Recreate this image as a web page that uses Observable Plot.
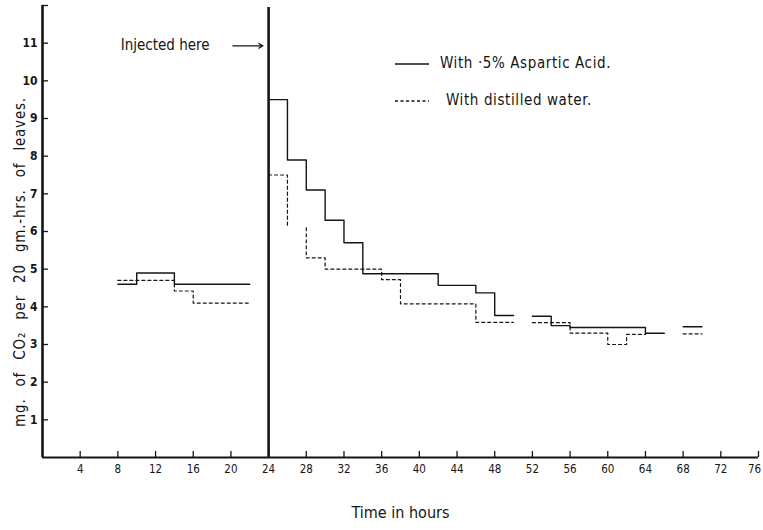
<!DOCTYPE html>
<html>
<head>
<meta charset="utf-8">
<script src="https://cdn.jsdelivr.net/npm/d3@7"></script>
<script src="https://cdn.jsdelivr.net/npm/@observablehq/plot@0.6"></script>
<style>
  html, body { margin: 0; padding: 0; background: #fff; }
  #wrap { position: relative; width: 763px; height: 530px; font-family: "DejaVu Sans Condensed", "DejaVu Sans", sans-serif; font-stretch: condensed; color: #151515; }
  #wrap > svg { display: block; }
  #wrap .legend { position: absolute; font-size: 15px; letter-spacing: 0.6px; white-space: nowrap; line-height: 18px; }
  #wrap .legend svg { display: inline-block; vertical-align: middle; }
  #wrap .ylabel { position: absolute; left: 20px; top: 262px; font-size: 15px; letter-spacing: 0.8px; word-spacing: 7px; white-space: pre; transform: translate(-50%, -50%) rotate(-90deg); }
</style>
</head>
<body>
<div id="wrap"></div>
<script>
// ---- data ----
// With 0.5% aspartic acid (solid): step breakpoints (hours) and values; seg = continuous pieces
const acidHours  = [8, 10, 14, 22,   24, 26, 28, 30, 32, 34, 42, 46, 48, 50,   52, 54, 56, 64, 66,   68, 70];
const acidValues = [4.6, 4.9, 4.6, 4.6,   9.5, 7.9, 7.1, 6.3, 5.7, 4.88, 4.57, 4.37, 3.77, 3.77,   3.75, 3.5, 3.45, 3.3, 3.3,   3.47, 3.47];
const acidSeg    = [1, 1, 1, 1,   2, 2, 2, 2, 2, 2, 2, 2, 2, 2,   3, 3, 3, 3, 3,   4, 4];

// With distilled water (dashed)
const waterHours  = [8, 14, 16, 22,   24, 26,   28, 28, 30, 36, 38, 46, 50,   52, 56, 60, 62, 64,   68, 70];
const waterValues = [4.7, 4.42, 4.1, 4.1,   7.5, 6.1,   6.1, 5.3, 5.0, 4.72, 4.08, 3.59, 3.59,   3.58, 3.3, 3.0, 3.27, 3.27,   3.28, 3.28];
const waterSeg    = [1, 1, 1, 1,   2, 2,   3, 3, 3, 3, 3, 3, 3,   4, 4, 4, 4, 4,   5, 5];

const xTicks = [4, 8, 12, 16, 20, 24, 28, 32, 36, 40, 44, 48, 52, 56, 60, 64, 68, 72, 76];
const yTicks = [1, 2, 3, 4, 5, 6, 7, 8, 9, 10, 11, 12];
const yTickLabels = ["1", "2", "3", "4", "5", "6", "7", "8", "9", "10", "11", ""];
const injectionHour = [24];
const injectedText = ["Injected here"];
const injectedAt = [{x: 8.3, y: 10.95}];
const injectedArrow = [{x1: 20.2, x2: 23.4, y: 10.93}];
const legendLabels = ["With ·5% Aspartic Acid.", "With distilled water."];
const xLabel = "Time in hours";
const yLabel = "mg. of CO₂ per 20 gm.-hrs. of leaves.";

// ---- build tables ----
const acid = acidHours.map((h, i) => ({hour: h, value: acidValues[i], seg: acidSeg[i]}));
const water = waterHours.map((h, i) => ({hour: h, value: waterValues[i], seg: waterSeg[i]}));

const W = 763, H = 530;
const mL = 42, mR = 5, mT = 5, mB = 73;
const plotW = W - mL - mR, plotH = H - mT - mB;
const ink = "#151515";
const font = '"DejaVu Sans Condensed", "DejaVu Sans", sans-serif';

const lastTick = xTicks[xTicks.length - 1];
const innerTicks = xTicks.filter(d => d !== lastTick);

const chart = Plot.plot({
  width: W, height: H,
  marginLeft: mL, marginRight: mR, marginTop: mT, marginBottom: mB,
  style: {fontFamily: font, color: ink, background: "#fff"},
  x: {domain: [0, 76]},
  y: {domain: [0, 12]},
  marks: [
    // inward tick marks
    Plot.tickX(xTicks, {x: d => d, stroke: ink, strokeWidth: 1.3, insetTop: plotH - 6}),
    Plot.tickY(yTicks, {y: d => d, stroke: ink, strokeWidth: 1.3, insetRight: plotW - 6}),
    // tick labels
    Plot.axisX(innerTicks, {tickSize: 0, tickPadding: 7, fontSize: 11.5, fill: ink, label: null}),
    Plot.axisX([lastTick], {tickSize: 0, tickPadding: 7, fontSize: 11.5, fill: ink, label: null, dx: -4}),
    Plot.axisY(yTicks, {tickSize: 0, tickPadding: 5, fontSize: 12, fontWeight: "bold", tickFormat: (d) => yTickLabels[yTicks.indexOf(d)], fill: ink, label: null}),
    // axis lines
    Plot.ruleX([0], {stroke: ink, strokeWidth: 2.6}),
    Plot.ruleY([0], {stroke: ink, strokeWidth: 2.2}),
    // injection line
    Plot.ruleX(injectionHour, {stroke: ink, strokeWidth: 2.6, insetTop: 2}),
    // series
    Plot.line(acid, {x: "hour", y: "value", z: "seg", curve: "step-after", stroke: ink, strokeWidth: 1.4}),
    Plot.line(water, {x: "hour", y: "value", z: "seg", curve: "step-after", stroke: ink, strokeWidth: 1.2, strokeDasharray: "3,3"}),
    // annotation
    Plot.text(injectedAt, {x: "x", y: "y", text: () => injectedText[0], textAnchor: "start", fontSize: 15, fill: ink, style: "letter-spacing:0.8px"}),
    Plot.arrow(injectedArrow, {x1: "x1", x2: "x2", y1: "y", y2: "y", stroke: ink, strokeWidth: 1.2, headLength: 6}),
    // x axis title
    Plot.text([xLabel], {frameAnchor: "bottom", dy: 60, fontSize: 16, fill: ink, style: "letter-spacing:1px"})
  ]
});

const wrap = document.getElementById("wrap");
wrap.appendChild(chart);

// y axis title (rotated)
const yl = document.createElement("div");
yl.className = "ylabel";
yl.textContent = yLabel;
wrap.appendChild(yl);

// legend (inside plot area, as in the original)
function legendRow(top, left, dash, label, gap) {
  const div = document.createElement("div");
  div.className = "legend";
  div.style.top = top + "px";
  div.style.left = left + "px";
  div.innerHTML = `<svg width="${34 + gap}" height="10"><line x1="0" x2="34" y1="5" y2="5" stroke="${ink}" stroke-width="1.3" ${dash ? 'stroke-dasharray="3,2.5"' : ''}/></svg><span>${label}</span>`;
  wrap.appendChild(div);
}
legendRow(54, 395, false, legendLabels[0], 11);
legendRow(91, 395, true, legendLabels[1], 17);
</script>
</body>
</html>
